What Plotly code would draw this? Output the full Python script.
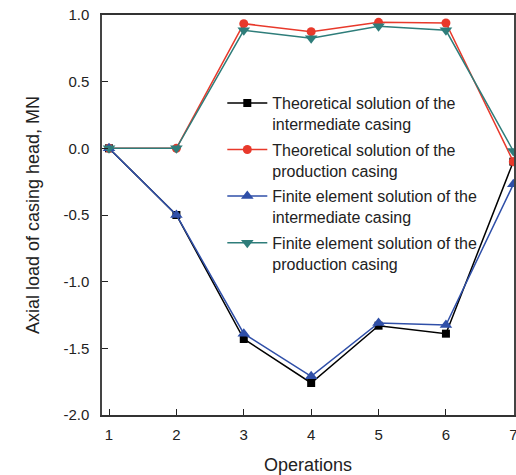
import plotly.graph_objects as go

operations = [1, 2, 3, 4, 5, 6, 7]
theo_intermediate = [0.0, -0.5, -1.43, -1.76, -1.33, -1.39, -0.10]
theo_production = [0.0, 0.0, 0.935, 0.875, 0.945, 0.94, -0.10]
fe_intermediate = [0.0, -0.5, -1.39, -1.71, -1.31, -1.325, -0.27]
fe_production = [0.0, 0.0, 0.885, 0.825, 0.915, 0.885, -0.02]

y_tick_values = [-2.0, -1.5, -1.0, -0.5, 0.0, 0.5, 1.0]
y_tick_labels = ["-2.0", "-1.5", "-1.0", "-0.5", "0.0", "0.5", "1.0"]

names = [
    "Theoretical solution of the<br>intermediate casing",
    "Theoretical solution of the<br>production casing",
    "Finite element solution of the<br>intermediate casing",
    "Finite element solution of the<br>production casing",
]
series = [theo_intermediate, theo_production, fe_intermediate, fe_production]
colors = ["#000000", "#e8392b", "#2f4fa8", "#2e7d7a"]
symbols = ["square", "circle", "triangle-up", "triangle-down"]
sizes = [8, 9, 11, 11]

fig = go.Figure()
for i, (nm, ys, c, s, sz) in enumerate(zip(names, series, colors, symbols, sizes)):
    fig.add_trace(go.Scatter(
        x=operations, y=ys, name=nm, mode="lines+markers",
        line=dict(color=c, width=1.5),
        marker=dict(color=c, symbol=s, size=sz),
        legendgroup=f"g{i}", cliponaxis=False,
    ))

fig.update_layout(
    width=516, height=475,
    margin=dict(l=102, r=2, t=15, b=60, autoexpand=False),
    paper_bgcolor="white", plot_bgcolor="white",
    font=dict(family="Arial, Liberation Sans, sans-serif", color="#222", size=15),
    showlegend=True,
    legend=dict(
        x=0.292, y=0.8225, xanchor="left", yanchor="top",
        bgcolor="rgba(0,0,0,0)", font=dict(size=16, color="#222"),
        valign="top", tracegroupgap=2, itemwidth=40,
    ),
    xaxis=dict(
        range=[0.896, 7.01], tickvals=operations, ticks="inside", ticklen=6,
        tickcolor="#222", showline=True, linecolor="#333", linewidth=1.5, mirror=True,
        showgrid=False, zeroline=False, automargin=False, ticklabelstandoff=5,
        ticklabeloverflow="allow",
        title=dict(text="Operations", font=dict(size=18, color="#222"), standoff=17),
    ),
    yaxis=dict(
        range=[-2.0, 1.0], tickvals=y_tick_values, ticktext=y_tick_labels,
        ticks="inside", ticklen=6, tickcolor="#222",
        showline=True, linecolor="#444", linewidth=1.5, mirror=True,
        showgrid=False, zeroline=False, automargin=False, ticklabelstandoff=8,
        ticklabeloverflow="allow",
        title=dict(text="Axial load of casing head, MN", font=dict(size=18, color="#222"), standoff=19),
    ),
)

fig.write_html(
    "out.html",
    config={"displayModeBar": False},
    post_script="document.body.style.margin='0';document.body.style.overflow='hidden';",
)
